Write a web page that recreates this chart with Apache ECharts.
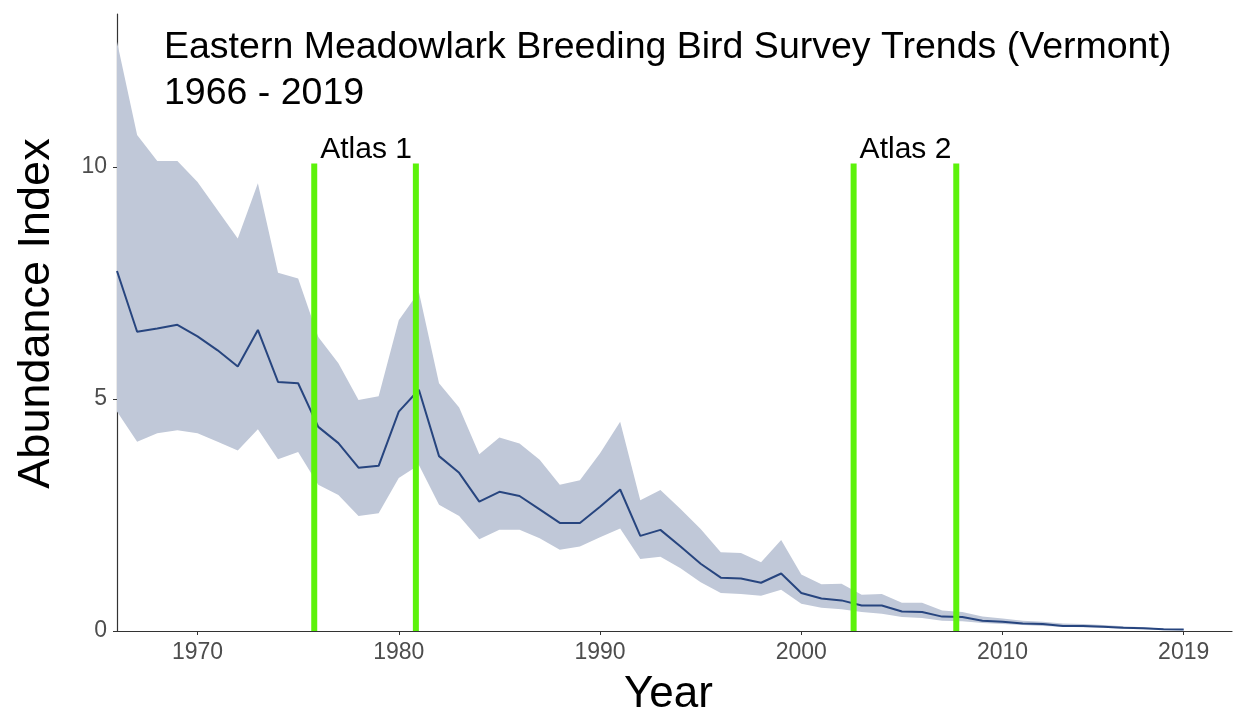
<!DOCTYPE html>
<html>
<head>
<meta charset="utf-8">
<script src="https://cdn.jsdelivr.net/npm/echarts@6/dist/echarts.min.js"></script>
<style>html,body{margin:0;padding:0;background:#fff;}#chart{width:1235px;height:713px;}</style>
</head>
<body>
<div id="chart"></div>
<script>
const years = [];
for (let y = 1966; y <= 2019; y++) years.push(y);

const meanIndex = [7.76,6.45,6.52,6.60,6.35,6.05,5.70,6.49,5.37,5.34,
  4.40,4.05,3.52,3.56,4.73,5.20,3.77,3.41,2.79,3.00,
  2.91,2.62,2.33,2.33,2.68,3.05,2.05,2.18,1.82,1.45,
  1.15,1.13,1.04,1.24,0.82,0.70,0.66,0.55,0.55,0.42,
  0.41,0.31,0.30,0.22,0.20,0.16,0.15,0.11,0.11,0.09,
  0.07,0.06,0.04,0.03];
const upperCI = [12.7,10.69,10.13,10.13,9.68,9.07,8.46,9.65,7.72,7.60,
  6.34,5.77,4.98,5.06,6.70,7.31,5.34,4.82,3.81,4.17,
  4.04,3.69,3.15,3.25,3.83,4.51,2.82,3.04,2.63,2.20,
  1.70,1.68,1.48,1.96,1.22,1.01,1.02,0.78,0.80,0.61,
  0.61,0.44,0.41,0.31,0.27,0.22,0.20,0.16,0.15,0.13,
  0.10,0.08,0.05,0.04];
const lowerCI = [4.73,4.08,4.26,4.33,4.26,4.08,3.89,4.35,3.70,3.86,
  3.15,2.93,2.48,2.54,3.30,3.58,2.72,2.48,1.98,2.18,
  2.18,2.00,1.75,1.82,2.02,2.21,1.55,1.60,1.35,1.05,
  0.82,0.80,0.76,0.89,0.59,0.50,0.47,0.41,0.37,0.30,
  0.28,0.22,0.21,0.17,0.15,0.13,0.11,0.09,0.08,0.07,
  0.05,0.04,0.03,0.02];

const xTicks = [1970, 1980, 1990, 2000, 2010, 2019];
const yTicks = [0, 5, 10];
const atlasNames = ['Atlas 1', 'Atlas 2'];
const atlasStart = [1975.8, 2002.6];
const atlasEnd = [1980.85, 2007.7];
const atlasTop = 10.08;

const FONT = "'Liberation Sans', Arial, Helvetica, sans-serif";

const bandData = years.map((y, i) => [y, lowerCI[i], upperCI[i]]);
const meanData = years.map((y, i) => [y, meanIndex[i]]);

const atlasSeries = [];
atlasNames.forEach((name, k) => {
  [atlasStart[k], atlasEnd[k]].forEach((x) => {
    atlasSeries.push({
      type: 'line', silent: true, symbol: 'none', z: 5,
      lineStyle: { color: '#5cf20a', width: 6 },
      data: [[x, 0], [x, atlasTop]]
    });
  });
});
atlasSeries.push({
  type: 'scatter', silent: true, symbolSize: 0, z: 6,
  data: atlasNames.map((n, k) => ({ name: n, value: [atlasStart[k], atlasTop] })),
  label: {
    show: true, position: 'right', distance: 6, offset: [0, -14],
    formatter: p => p.name, color: '#000000', opacity: 1, fontSize: 30, fontFamily: FONT
  }
});

const chart = echarts.init(document.getElementById('chart'), null, { renderer: 'canvas' });
chart.setOption({
  animation: false,
  backgroundColor: '#ffffff',
  title: {
    text: 'Eastern Meadowlark Breeding Bird Survey Trends (Vermont)\n1966 - 2019',
    left: 159, top: 20,
    textStyle: { fontFamily: FONT, fontSize: 37.5, fontWeight: 'normal', color: '#000', lineHeight: 46 }
  },
  grid: { left: 117, right: 3, top: 14, bottom: 82, containLabel: false, outerBoundsMode: 'none' },
  xAxis: {
    type: 'value', min: 1966, max: 2021.4,
    name: 'Year', nameLocation: 'middle', nameGap: 42,
    nameTextStyle: { fontFamily: FONT, fontSize: 44, color: '#000', verticalAlign: 'top', padding: [0, 12, 0, 0] },
    axisLine: { show: true, lineStyle: { color: '#333', width: 1.2 } },
    axisTick: { show: true, length: 4, customValues: xTicks, lineStyle: { color: '#333' } },
    axisLabel: { customValues: xTicks, formatter: v => String(Math.round(v)), fontFamily: FONT, fontSize: 23, color: '#4d4d4d', margin: 10 },
    splitLine: { show: false }
  },
  yAxis: {
    type: 'value', min: 0, max: 13.3,
    name: 'Abundance Index', nameLocation: 'middle', nameGap: 58, nameRotate: 90,
    nameTextStyle: { fontFamily: FONT, fontSize: 45, color: '#000', padding: [0, 0, 0, 18] },
    axisLine: { show: true, lineStyle: { color: '#333', width: 1.2 } },
    axisTick: { show: true, length: 4, customValues: yTicks, lineStyle: { color: '#333' } },
    axisLabel: { customValues: yTicks, formatter: v => String(v), fontFamily: FONT, fontSize: 23, color: '#4d4d4d', margin: 10 },
    splitLine: { show: false }
  },
  series: [
    {
      type: 'custom', silent: true, z: 1,
      data: bandData,
      encode: { x: 0, y: [1, 2] },
      renderItem: function (params, api) {
        if (params.dataIndex !== 0) return null;
        const top = bandData.map(d => api.coord([d[0], d[2]]));
        const bot = bandData.slice().reverse().map(d => api.coord([d[0], d[1]]));
        return {
          type: 'polygon',
          shape: { points: top.concat(bot) },
          style: { fill: '#c0c8d8', stroke: null }
        };
      }
    },
    { type: 'line', data: meanData, symbol: 'none', silent: true,
      lineStyle: { color: '#27457f', width: 2 }, z: 3 }
  ].concat(atlasSeries)
});
</script>
</body>
</html>
